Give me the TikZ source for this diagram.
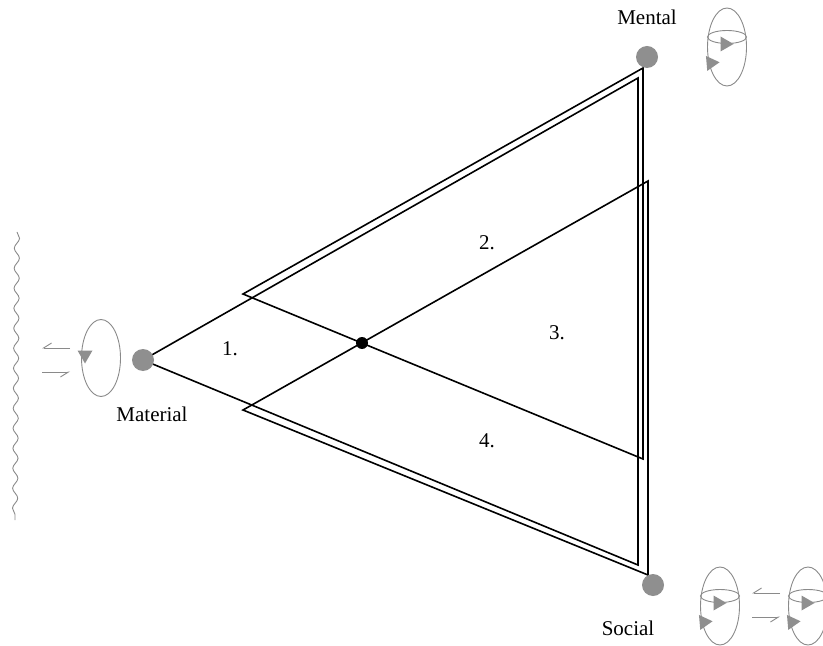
\documentclass[tikz,border=0pt]{standalone}
\usepackage{fontspec}
\setmainfont{Liberation Serif}
\usetikzlibrary{arrows.meta,decorations.pathmorphing,positioning}
\definecolor{polegray}{HTML}{8F8F8F}
\definecolor{spingray}{HTML}{8A8A8A}

\tikzset{
  pole/.style={circle,fill=polegray,minimum size=11pt,inner sep=0pt},
  hub/.style={circle,fill=black,minimum size=6pt,inner sep=0pt},
  tri/.style={line width=0.8pt},
  lbl/.style={inner sep=0pt},
  spin/.style={draw=spingray,line width=0.45pt},
  barb/.style={spingray,line width=0.45pt,-{Straight Barb[harpoon,swap,length=4pt,width=5pt]}}
}
% filled arrow head on a spin loop
\newcommand{\spintip}[2]{\fill[polegray,shift={#1},rotate=#2] (6.5,0) -- (-6.5,7.5) -- (-6.5,-7.5) -- cycle;}
% loop with a turning ring
\newcommand{\ringspin}[2]{%
  \draw[spin] (#1,#2) ellipse [x radius=19.5,y radius=39];
  \draw[spin] (#1,#2-10) ellipse [x radius=19.5,y radius=6.5];
  \spintip{(#1,#2-3)}{0}
  \spintip{(#1-17,#2+18)}{-115}}

\begin{document}
\begin{tikzpicture}[x=0.5pt,y=-0.5pt,font=\fontsize{10.5}{12}\selectfont]
  \useasboundingbox (0,0) rectangle (823,646);

  % corners of the three triangles
  \coordinate (a1) at (638,78);
  \coordinate (a2) at (638,565);
  \coordinate (n1) at (243,294);
  \coordinate (b1) at (643,68);
  \coordinate (b2) at (643,459);
  \coordinate (n2) at (243,410);
  \coordinate (c1) at (648,181);
  \coordinate (c2) at (648,575);

  \draw[tri] (143,360) -- (a1) -- (a2) -- cycle;
  \draw[tri] (n1) -- (b1) -- (b2) -- cycle;
  \draw[tri] (n2) -- (c1) -- (c2) -- cycle;

  \node[pole] (mat) at (143,360) {};
  \node[pole] (men) at (647,57) {};
  \node[pole] (soc) at (653,585) {};
  \node[hub] (hub) at (362,343) {};

  \node[lbl,above=10pt of men] (menl) {Mental};
  \node[lbl,below=17.5pt of mat,xshift=4.5pt] (matl) {Material};
  \node[lbl,below=12pt of soc,xshift=-12.5pt] (socl) {Social};

  \node[lbl] (r1) at (230,349) {1.};
  \node[lbl] (r2) at (487,243) {2.};
  \node[lbl] (r3) at (557,333) {3.};
  \node[lbl] (r4) at (487,441) {4.};

  % material side
  \draw[spingray,line width=0.45pt,decorate,decoration={snake,segment length=10pt,amplitude=1.3pt}] (17,232) -- (15,520);
  \draw[spin] (101,358) ellipse [x radius=19.5,y radius=38.5];
  \spintip{(85,357)}{-90}
  \coordinate (h1) at (70,348);
  \coordinate (h2) at (42,348);
  \coordinate (h3) at (42,372);
  \coordinate (h4) at (70,372);
  \draw[barb] (h1) -- (h2);
  \draw[barb] (h3) -- (h4);

  % mental and social sides
  \ringspin{727}{47}
  \ringspin{720}{606}
  \ringspin{808}{606}
  \coordinate (s1) at (780,593);
  \coordinate (s2) at (752,593);
  \coordinate (s3) at (752,617);
  \coordinate (s4) at (780,617);
  \draw[barb] (s1) -- (s2);
  \draw[barb] (s3) -- (s4);
\end{tikzpicture}
\end{document}
